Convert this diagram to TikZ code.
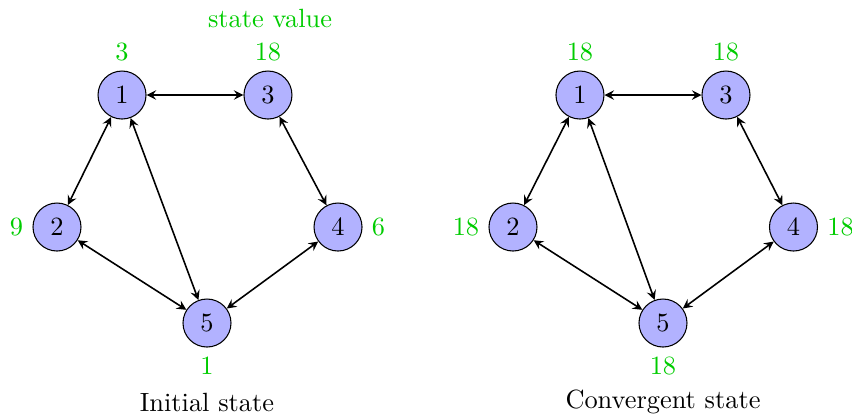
\documentclass[tikz,border=0pt]{standalone}
\usepackage{amsmath}
\usepackage{tikz}

\tikzset{
  agent/.style={circle, draw, fill=blue!30, minimum size=0.64cm, inner sep=0pt},
  val/.style={text=green!80!black},
  link/.style={<->, >=stealth, semithick},
}

\begin{document}
\begin{tikzpicture}[label distance=0pt]
\useasboundingbox (0,0) rectangle (11.36,5.547);
% initial state
\node[agent, label={[val]above:3}]  (a1) at (1.627,4.28) {1};
\node[agent, label={[val]above:18}] (a3) at (3.573,4.28) {3};
\node[agent, label={[val]left:9}]   (a2) at (0.76,2.52)  {2};
\node[agent, label={[val]right:6}]  (a4) at (4.507,2.52) {4};
\node[agent, label={[val]below:1}]  (a5) at (2.76,1.24)  {5};
\node[val] (sv) at (3.6,5.307) {state value};
\node (cap1) at (2.76,0.187) {Initial state};
% convergent state
\node[agent, label={[val]above:18}] (b1) at (7.733,4.28) {1};
\node[agent, label={[val]above:18}] (b3) at (9.68,4.28)  {3};
\node[agent, label={[val]left:18}]  (b2) at (6.84,2.52)  {2};
\node[agent, label={[val]right:18}] (b4) at (10.58,2.52) {4};
\node[agent, label={[val]below:18}] (b5) at (8.84,1.24)  {5};
\node (cap2) at (8.84,0.187) {Convergent state};

\foreach \g in {a,b} {
  \draw[link] (\g1) -- (\g3);
  \draw[link] (\g1) -- (\g2);
  \draw[link] (\g1) -- (\g5);
  \draw[link] (\g3) -- (\g4);
  \draw[link] (\g2) -- (\g5);
  \draw[link] (\g4) -- (\g5);
}
\end{tikzpicture}
\end{document}
